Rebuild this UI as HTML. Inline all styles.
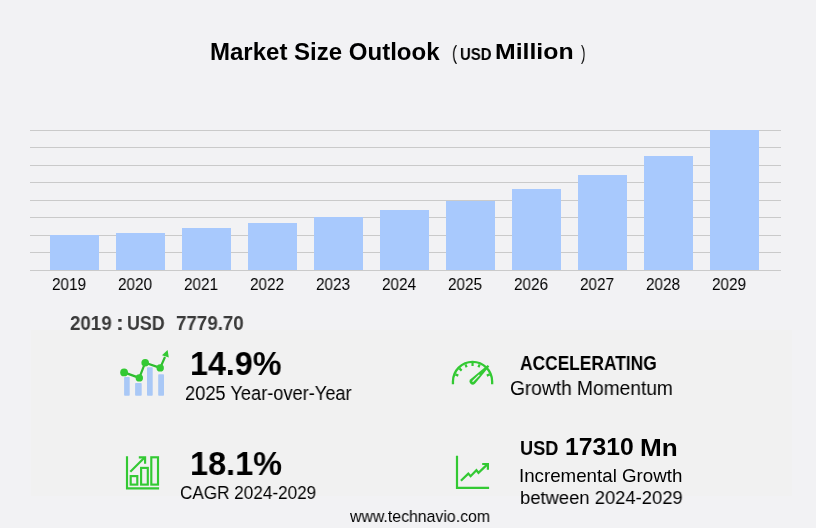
<!DOCTYPE html>
<html><head><meta charset="utf-8">
<style>
*{margin:0;padding:0}
html,body{width:816px;height:528px;overflow:hidden;background:#f2f2f4}
body{position:relative;font-family:"Liberation Sans",sans-serif}
svg{position:absolute;left:0;top:0}
.t{will-change:transform;position:absolute;white-space:nowrap;line-height:1;transform-origin:0 0}
</style></head><body>
<svg width="816" height="528" viewBox="0 0 816 528" shape-rendering="auto">
<rect x="31" y="330" width="761" height="166" fill="#f1f1f1"/>
<rect x="30" y="130" width="751" height="1" fill="#cacaca"/>
<rect x="30" y="147" width="751" height="1" fill="#cacaca"/>
<rect x="30" y="165" width="751" height="1" fill="#cacaca"/>
<rect x="30" y="182" width="751" height="1" fill="#cacaca"/>
<rect x="30" y="200" width="751" height="1" fill="#cacaca"/>
<rect x="30" y="217" width="751" height="1" fill="#cacaca"/>
<rect x="30" y="235" width="751" height="1" fill="#cacaca"/>
<rect x="30" y="252" width="751" height="1" fill="#cacaca"/>
<rect x="30" y="270" width="751" height="1" fill="#cacaca"/>
<rect x="50" y="235" width="49" height="35" fill="#a8c9fd"/>
<rect x="116" y="233" width="49" height="37" fill="#a8c9fd"/>
<rect x="182" y="228" width="49" height="42" fill="#a8c9fd"/>
<rect x="248" y="223" width="49" height="47" fill="#a8c9fd"/>
<rect x="314" y="217" width="49" height="53" fill="#a8c9fd"/>
<rect x="380" y="210" width="49" height="60" fill="#a8c9fd"/>
<rect x="446" y="201" width="49" height="69" fill="#a8c9fd"/>
<rect x="512" y="189" width="49" height="81" fill="#a8c9fd"/>
<rect x="578" y="175" width="49" height="95" fill="#a8c9fd"/>
<rect x="644" y="156" width="49" height="114" fill="#a8c9fd"/>
<rect x="710" y="130" width="49" height="140" fill="#a8c9fd"/>
<g fill="#a9c8f6">
<rect x="124.1" y="377" width="5.6" height="18.8" rx="0.8"/>
<rect x="135.1" y="383" width="6.6" height="12.8" rx="0.8"/>
<rect x="147" y="367.3" width="5.7" height="28.5" rx="0.8"/>
<rect x="158.2" y="374.2" width="5.8" height="21.6" rx="0.8"/>
</g>
<g fill="#33c933" stroke="#33c933">
<polyline points="124.1,372.4 139.3,377.9 145.2,362.7 160.2,367.9 165,357" fill="none" stroke="#2fbd2f" stroke-width="2.2" stroke-linejoin="round"/>
<circle cx="124.1" cy="372.4" r="3.9" stroke="none"/>
<circle cx="139.3" cy="377.9" r="3.7" stroke="none"/>
<circle cx="145.2" cy="362.7" r="3.8" stroke="none"/>
<circle cx="160.2" cy="367.9" r="3.7" stroke="none"/>
<polygon points="167.6,350 162,355.2 168.8,357.4" stroke="none"/>
</g>
<g fill="none" stroke="#33c933">
<path d="M452.95 384.2V381.5A19.6 19.6 0 0 1 492.15 381.5V384.2" stroke-width="2.3"/>
<path d="M458.32 375.61L455.37 374.38 M461.66 370.61L459.40 368.35 M466.66 367.27L465.43 364.32 M472.55 366.10L472.55 362.90 M478.44 367.27L479.67 364.32 M486.78 375.61L489.73 374.38" stroke-width="2.2"/>
<path d="M474.96 383.76L489.25 366.51L487.69 364.95L470.44 379.24A3.2 3.2 0 0 0 474.96 383.76Z" fill="#33c933" stroke="none"/>
<path d="M472.91 381.29L479.06 375.14" stroke="#eef3ee" stroke-width="1.2" stroke-linecap="round"/>
</g>
<g fill="none" stroke="#33c933" stroke-width="2.15">
<path d="M127 456.2V488.4H159.1"/>
<rect x="130.7" y="476.1" width="6.6" height="8.5"/>
<rect x="141.1" y="467.9" width="6.7" height="16.7"/>
<rect x="151.3" y="457.3" width="6.7" height="27.3"/>
<path d="M130.3 471.7L144.6 457.4"/>
<path d="M138.8 457.3H145.1V463.7"/>
</g>
<g fill="none" stroke="#33c933" stroke-width="2.2">
<path d="M457 455.8V487.9H489.1"/>
<path d="M460.9 480.8L468.3 473.6L470.6 476.2L476.4 470.2L478.5 472.8L487.6 464.1"/>
<path d="M482.2 464H487.9V469.8"/>
</g>
</svg>
<div class=t style="left:210.43px;top:41.25px;font-size:23.02px;font-weight:bold;color:#000;transform:scaleX(1.0435);">Market Size Outlook</div>
<div class=t style="left:451.55px;top:42.65px;font-size:20.25px;font-weight:normal;color:#000;transform:scaleX(0.7619);">(</div>
<div class=t style="left:460.12px;top:46.75px;font-size:16.85px;font-weight:bold;color:#000;transform:scaleX(0.883);">USD</div>
<div class=t style="left:495.36px;top:40.47px;font-size:22.74px;font-weight:bold;color:#000;transform:scaleX(1.0913);">Million</div>
<div class=t style="left:581.03px;top:42.55px;font-size:20.03px;font-weight:normal;color:#000;transform:scaleX(0.6667);">)</div>
<div class=t style="left:70.28px;top:313.52px;font-size:19.42px;font-weight:bold;color:#3a3a3a;transform:scaleX(0.9641);">2019</div>
<div class=t style="left:115.77px;top:313.8px;font-size:19.42px;font-weight:bold;color:#3a3a3a;transform:scaleX(1.2182);">:</div>
<div class=t style="left:127.15px;top:313.52px;font-size:19.42px;font-weight:bold;color:#3a3a3a;transform:scaleX(0.9179);">USD</div>
<div class=t style="left:175.53px;top:313.52px;font-size:19.42px;font-weight:bold;color:#3a3a3a;transform:scaleX(0.9657);">7779.70</div>
<div class=t style="left:189.75px;top:346.72px;font-size:33.14px;font-weight:bold;color:#000;transform:scaleX(0.9736);">14.9%</div>
<div class=t style="left:184.77px;top:383.75px;font-size:19.7px;font-weight:normal;color:#000;transform:scaleX(0.9266);">2025 Year-over-Year</div>
<div class=t style="left:519.66px;top:353.75px;font-size:19.7px;font-weight:bold;color:#000;transform:scaleX(0.8816);">ACCELERATING</div>
<div class=t style="left:509.93px;top:378.75px;font-size:19.68px;font-weight:normal;color:#000;transform:scaleX(0.9739);">Growth Momentum</div>
<div class=t style="left:189.87px;top:447.35px;font-size:33.6px;font-weight:bold;color:#000;transform:scaleX(0.9668);">18.1%</div>
<div class=t style="left:180.32px;top:484.05px;font-size:18.35px;font-weight:normal;color:#000;transform:scaleX(0.9337);">CAGR 2024-2029</div>
<div class=t style="left:519.84px;top:438.75px;font-size:19.7px;font-weight:bold;color:#000;transform:scaleX(0.9241);">USD</div>
<div class=t style="left:565.25px;top:435.0px;font-size:23.92px;font-weight:bold;color:#000;transform:scaleX(1.0344);">17310</div>
<div class=t style="left:640.14px;top:436.72px;font-size:23.66px;font-weight:bold;color:#000;transform:scaleX(1.104);">Mn</div>
<div class=t style="left:518.52px;top:466.5px;font-size:18.46px;font-weight:normal;color:#000;transform:scaleX(1.0152);">Incremental Growth</div>
<div class=t style="left:519.67px;top:488.72px;font-size:18.73px;font-weight:normal;color:#000;transform:scaleX(0.9832);">between 2024-2029</div>
<div class=t style="left:350.1px;top:507.75px;font-size:16.26px;font-weight:normal;color:#000;transform:scaleX(0.9754);">www.technavio.com</div>
<div class=t style="left:51.98px;top:277.43px;font-size:15.86px;font-weight:normal;color:#000;transform:scaleX(0.963);">2019</div>
<div class=t style="left:117.98px;top:277.43px;font-size:15.86px;font-weight:normal;color:#000;transform:scaleX(0.963);">2020</div>
<div class=t style="left:183.98px;top:277.43px;font-size:15.86px;font-weight:normal;color:#000;transform:scaleX(0.963);">2021</div>
<div class=t style="left:249.98px;top:277.43px;font-size:15.86px;font-weight:normal;color:#000;transform:scaleX(0.963);">2022</div>
<div class=t style="left:315.98px;top:277.43px;font-size:15.86px;font-weight:normal;color:#000;transform:scaleX(0.963);">2023</div>
<div class=t style="left:381.98px;top:277.43px;font-size:15.86px;font-weight:normal;color:#000;transform:scaleX(0.963);">2024</div>
<div class=t style="left:447.98px;top:277.43px;font-size:15.86px;font-weight:normal;color:#000;transform:scaleX(0.963);">2025</div>
<div class=t style="left:513.98px;top:277.43px;font-size:15.86px;font-weight:normal;color:#000;transform:scaleX(0.963);">2026</div>
<div class=t style="left:579.98px;top:277.43px;font-size:15.86px;font-weight:normal;color:#000;transform:scaleX(0.963);">2027</div>
<div class=t style="left:645.98px;top:277.43px;font-size:15.86px;font-weight:normal;color:#000;transform:scaleX(0.963);">2028</div>
<div class=t style="left:711.98px;top:277.43px;font-size:15.86px;font-weight:normal;color:#000;transform:scaleX(0.963);">2029</div>
</body></html>
